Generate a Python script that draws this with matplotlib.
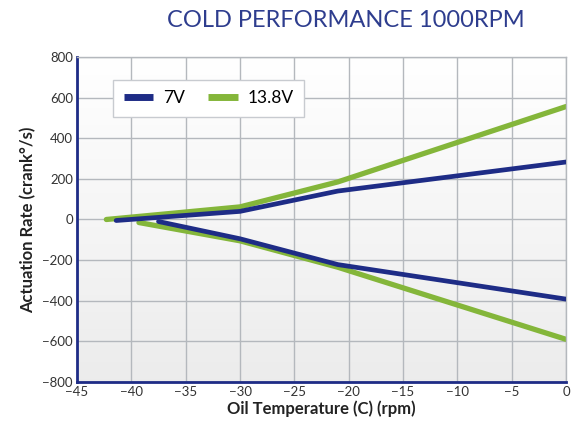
import numpy as np
import matplotlib.pyplot as plt

# Data
temp_7v_up = [-41.4, -30, -21, 0]
rate_7v_up = [-5, 40, 140, 283]
temp_7v_dn = [-37.5, -30, -21, 0]
rate_7v_dn = [-10, -95, -222, -392]

temp_138v_up = [-42.3, -30, -21, 0]
rate_138v_up = [0, 62, 185, 556]
temp_138v_dn = [-39.3, -30, -21, 0]
rate_138v_dn = [-15, -105, -235, -590]

NAVY = "#1e2c86"
GREEN = "#84b63a"

plt.rcParams["font.family"] = ["Lato", "DejaVu Sans"]

fig = plt.figure(figsize=(5.73, 4.25), dpi=100)
ax = fig.add_axes([0.1344, 0.1012, 0.8534, 0.7647])

# background gradient: white at top to light gray at bottom
shade = np.linspace(1.0, 0.925, 256)
grad = np.dstack([shade, shade, shade]).reshape(256, 1, 3)
ax.imshow(grad, extent=[-45, 0, -800, 800], aspect="auto",
          origin="upper", zorder=0)

ax.plot(temp_7v_up, rate_7v_up, color=NAVY, lw=3.4, solid_capstyle="round",
        zorder=3, label="7V")
ax.plot(temp_7v_dn, rate_7v_dn, color=NAVY, lw=3.4, solid_capstyle="round",
        zorder=3)
ax.plot(temp_138v_up, rate_138v_up, color=GREEN, lw=3.8,
        solid_capstyle="round", zorder=2, label="13.8V")
ax.plot(temp_138v_dn, rate_138v_dn, color=GREEN, lw=3.8,
        solid_capstyle="round", zorder=2)

ax.set_xlim(-45, 0)
ax.set_ylim(-800, 800)
ax.set_xticks(np.arange(-45, 1, 5))
ax.set_yticks(np.arange(-800, 801, 200))
ax.grid(True, color="#b4b8bd", lw=1.0, zorder=1)
ax.set_axisbelow(True)

for side in ["top", "right"]:
    ax.spines[side].set_color("#b4b8bd")
    ax.spines[side].set_linewidth(1.0)
for side in ["left", "bottom"]:
    ax.spines[side].set_color(NAVY)
    ax.spines[side].set_linewidth(2.0)

ax.tick_params(length=0, labelsize=9.5, colors="#333333", pad=3)

ax.set_xlabel("Oil Temperature (C) (rpm)", fontsize=12, fontweight="bold",
              color="#222222", labelpad=2)
ax.set_ylabel("Actuation Rate (crank\u00b0/s)", fontsize=12,
              fontweight="bold", color="#222222", labelpad=4)

fig.text(0.604, 0.952, "COLD PERFORMANCE 1000RPM", ha="center", va="center",
         fontsize=17, color="#2e3d8e", fontweight="normal")

leg = ax.legend(loc="upper left", bbox_to_anchor=(0.074, 0.93), ncol=2,
                fontsize=12.5, frameon=True, fancybox=False,
                handlelength=1.7, columnspacing=1.3, borderpad=0.6,
                handletextpad=0.6, borderaxespad=0)
leg.get_frame().set_edgecolor("#c8cbd0")
leg.get_frame().set_facecolor("white")
leg.get_frame().set_alpha(1.0)
for line in leg.get_lines():
    line.set_linewidth(5)
    line.set_solid_capstyle("butt")

fig.savefig("out.png", dpi=100)
